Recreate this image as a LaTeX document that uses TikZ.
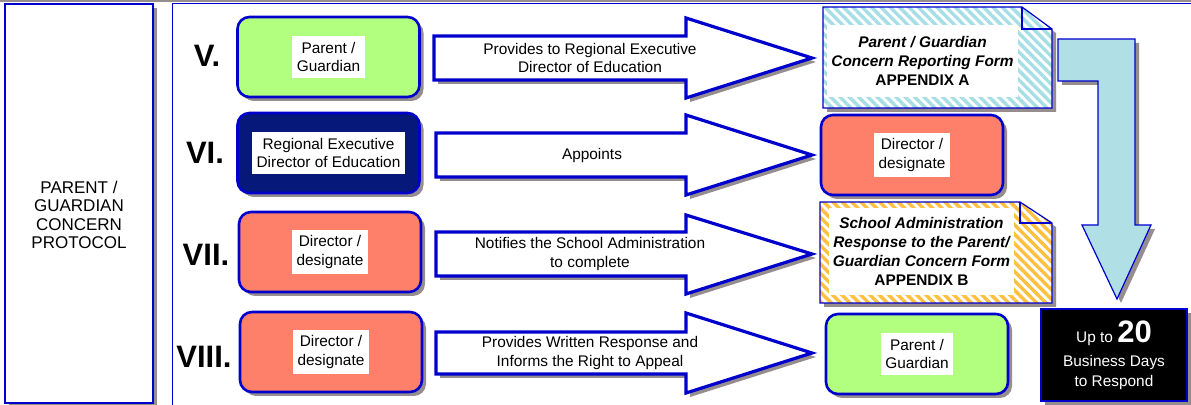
\documentclass[tikz,border=0pt]{standalone}
\usepackage{fontspec}
\setmainfont{Liberation Sans}
\usepackage{tikz}
\usetikzlibrary{positioning,calc,shadows,patterns.meta}

\definecolor{lineblue}{RGB}{0,0,204}
\definecolor{castgray}{RGB}{150,142,142}
\definecolor{parentgreen}{RGB}{178,255,128}
\definecolor{directorred}{RGB}{255,128,106}
\definecolor{redblue}{RGB}{6,24,122}
\definecolor{formcyan}{RGB}{166,222,230}
\definecolor{formorange}{RGB}{255,192,64}
\definecolor{flowcyan}{RGB}{176,224,230}

\newcommand{\lbl}{\fontsize{7.7}{9.3}\selectfont}
\newcommand{\numfont}{\fontsize{15.5}{18}\selectfont\bfseries}

\tikzset{
  cast/.style={drop shadow={shadow xshift=2pt,shadow yshift=-2pt,fill=castgray,opacity=1}},
  stage/.style={cast,draw=lineblue,line width=1.3pt,rounded corners=6pt,
                minimum width=91pt,minimum height=40pt,inner sep=0pt},
  parent/.style={stage,fill=parentgreen},
  director/.style={stage,fill=directorred},
  redbox/.style={stage,fill=redblue},
  tag/.style={fill=white,font=\lbl,align=center,inner xsep=2.2pt,inner ysep=3pt},
  numeral/.style={font=\numfont,inner sep=0pt},
  bigarrow/.style={cast,draw=lineblue,fill=white,line width=1.6pt,line join=miter},
  saying/.style={font=\lbl,align=center},
  form/.style={cast,preaction={fill=white},draw=lineblue,line width=0.6pt},
  stripes/.style={pattern={Lines[angle=-45,distance=3.3pt,line width=1.7pt]},pattern color=#1},
  formtext/.style={fill=white,font=\fontsize{7.7}{9.6}\selectfont\bfseries\itshape,
                   align=center,inner sep=2pt}
}

\begin{document}
\begin{tikzpicture}[x=0.5pt,y=-0.5pt]
\useasboundingbox (0,0) rectangle (1191,405);

% frames
\fill[castgray] (0,-5) rectangle (1191,2.5);
\draw[lineblue,line width=0.5pt] (172,420) |- (1200,4);
\node[cast,draw=lineblue,fill=white,line width=0.6pt,minimum width=74pt,minimum height=199.5pt] (side) at (79,203.5) {};
\node[font=\fontsize{8.5}{9.3}\selectfont,align=center] (protocol) at (79,215) {PARENT /\\GUARDIAN\\CONCERN\\PROTOCOL};

% step numbers
\node[numeral] (n5) at (207,56)  {V.};
\node[numeral] (n6) at (205,153) {VI.};
\node[numeral] (n7) at (206,255) {VII.};
\node[numeral] (n8) at (204,357) {VIII.};

% who starts each step
\node[parent]   (who5) at (328.5,57) {};
\node[tag]      (who5t) at (who5) {Parent /\\Guardian};
\node[redbox]   (who6) at (328.5,153) {};
\node[tag]      (who6t) at (who6) {Regional Executive\\Director of Education};
\node[director] (who7) at (330,252) {};
\node[tag]      (who7t) at (who7) {Director /\\designate};
\node[director] (who8) at (331,352) {};
\node[tag]      (who8t) at (who8) {Director /\\designate};

% block arrows
\draw[bigarrow] (434,36) -- (686,36) -- (686,18) -- (812,58) -- (686,98) -- (686,80) -- (434,80) -- cycle;
\node[saying] (say5) at (590,58) {Provides to Regional Executive\\Director of Education};
\draw[bigarrow] (436,133) -- (686,133) -- (686,115) -- (812,155) -- (686,195) -- (686,177) -- (436,177) -- cycle;
\node[saying] (say6) at (592,156) {Appoints};
\draw[bigarrow] (436,232) -- (686,232) -- (686,215) -- (812,254) -- (686,294) -- (686,276) -- (436,276) -- cycle;
\node[saying] (say7) at (590,254) {Notifies the School Administration\\to complete};
\draw[bigarrow] (436,332) -- (686,332) -- (686,313) -- (812,353) -- (686,393) -- (686,374) -- (436,374) -- cycle;
\node[saying] (say8) at (590,353) {Provides Written Response and\\Informs the Right to Appeal};

% forms
\draw[form,stripes=formcyan]
  (823,7) -- (1022,7) -- (1052,29) -- (1052,108) -- (823,108) -- cycle;
\draw[lineblue,line width=0.6pt] (1022,7) |- (1052,29);
\node[formtext,minimum width=93.5pt,minimum height=36pt] (formA) at (922.5,61)
  {Parent / Guardian\\Concern Reporting Form\\\upshape APPENDIX A};

\draw[form,stripes=formorange]
  (820,202) -- (1020,202) -- (1052,223) -- (1052,303) -- (820,303) -- cycle;
\draw[lineblue,line width=0.6pt] (1020,202) |- (1052,223);
\node[formtext,minimum width=91.5pt,minimum height=43.5pt] (formB) at (921.5,251.5)
  {School Administration\\Response to the Parent/\\Guardian Concern Form\\\upshape APPENDIX B};

% who receives
\node[director] (to6) at (912,155) {};
\node[tag]      (to6t) at (to6) {Director /\\designate};
\node[parent]   (to8) at (917,354) {};
\node[tag]      (to8t) at (to8) {Parent /\\Guardian};

% time limit
\draw[cast,fill=flowcyan,draw=lineblue,line width=0.6pt]
  (1058,39) -- (1135,39) -- (1135,225) -- (1151,225) -- (1117,299) -- (1082,225) -- (1098,225) -- (1098,81) -- (1058,81) -- cycle;
\node[cast,fill=black,draw=lineblue,line width=0.6pt,text=white,font=\lbl,align=center,
      minimum width=73pt,minimum height=46pt] (days) at (1114,355)
  {Up to {\fontsize{15.5}{16}\selectfont\bfseries 20}\\[2.7pt]Business Days\\[0.6pt]to Respond};

\end{tikzpicture}
\end{document}
